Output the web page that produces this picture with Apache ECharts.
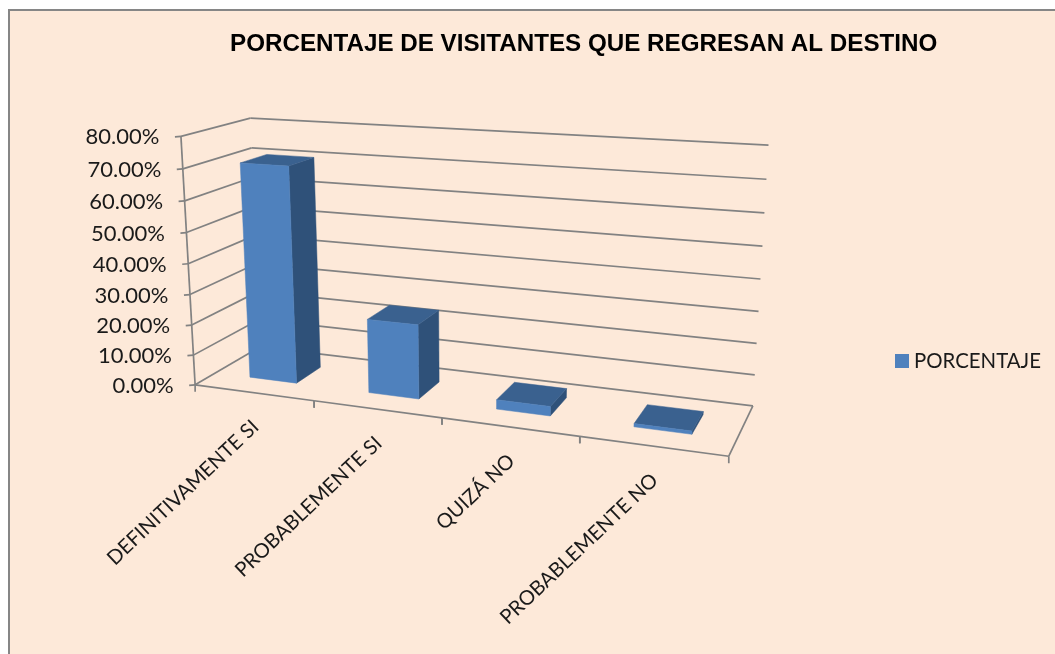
<!DOCTYPE html>
<html><head><meta charset="utf-8">
<style>html,body{margin:0;padding:0;background:#fff}#c{width:1055px;height:654px}</style>
<script src="https://cdn.jsdelivr.net/npm/echarts@6/dist/echarts.min.js"></script>
</head><body><div id="c"></div>
<script>
const categories = ['DEFINITIVAMENTE SI','PROBABLEMENTE SI','QUIZÁ NO','PROBABLEMENTE NO'];
const porcentaje = [70.5, 24.0, 3.0, 1.0];
const yTicks = [0,10,20,30,40,50,60,70,80];
const seriesName = 'PORCENTAJE';
const titleText = 'PORCENTAJE DE VISITANTES QUE REGRESAN AL DESTINO';

// Perspective camera fitted to the reference's plot box: [u (0..4 categories), value (0..80), v depth (0..1)] -> pixel
const calib = [
  [0,80,0,180.7,136],[0,0,0,195,385],[0,80,1,250.7,118],[0,0,1,260,347],
  [4,80,1,768,145],[4,0,1,752.7,406],[4,0,0,728.7,456],[1,0,0,314.3,399],
  [3,0,0,580,437.3],[0,40,0,188.3,265],[4,40,1,761,279]
];
function fitCamera(pts){
  const n=11, A=[], b=[];
  pts.forEach(p=>{
    const X=p[0]/4,Y=p[1]/80,Z=p[2],x=p[3]/1000,y=p[4]/1000;
    A.push([X,Y,Z,1,0,0,0,0,-x*X,-x*Y,-x*Z]); b.push(x);
    A.push([0,0,0,0,X,Y,Z,1,-y*X,-y*Y,-y*Z]); b.push(y);
  });
  const M=[];
  for(let i=0;i<n;i++){M[i]=[];for(let j=0;j<=n;j++){let s=0;for(let k=0;k<A.length;k++)s+=A[k][i]*(j<n?A[k][j]:b[k]);M[i][j]=s;}}
  for(let i=0;i<n;i++){
    let m=i;for(let r=i+1;r<n;r++)if(Math.abs(M[r][i])>Math.abs(M[m][i]))m=r;
    [M[i],M[m]]=[M[m],M[i]];
    for(let r=0;r<n;r++){if(r===i)continue;const f=M[r][i]/M[i][i];for(let c=i;c<=n;c++)M[r][c]-=f*M[i][c];}
  }
  return M.map((r,i)=>r[n]/r[i]);
}
const H=fitCamera(calib);
function proj(u,val,v){
  const X=u/4,Y=val/80,Z=v;
  const w=H[8]*X+H[9]*Y+H[10]*Z+1;
  return [1000*(H[0]*X+H[1]*Y+H[2]*Z+H[3])/w,1000*(H[4]*X+H[5]*Y+H[6]*Z+H[7])/w];
}
// hidden cartesian scale -> world coordinates
const gridBox={left:100,top:100,width:400,height:400};
function world(api,i,val){
  const p=api.coord([i,val]);
  return [(p[0]-gridBox.left)/gridBox.width*4,(gridBox.top+gridBox.height-p[1])/gridBox.height*80];
}
const lineStyle={stroke:'#828282',lineWidth:1.7,fill:null};
function seg(a,b){return {type:'line',shape:{x1:a[0],y1:a[1],x2:b[0],y2:b[1]},style:lineStyle,silent:true};}
function poly(points,fill){return {type:'polygon',shape:{points},style:{fill,stroke:fill,lineWidth:0.5},silent:true};}
const labelFont='Lato';

function renderWall(params,api){
  const val=api.value(0);
  const w=world(api,0,val)[1];
  const f=proj(0,w,0),bl=proj(0,w,1),br=proj(4,w,1);
  return {type:'group',children:[
    seg(f,bl),seg(bl,br),seg([f[0]-6,f[1]+0.5],f),
    {type:'text',style:{x:f[0]-21.5,y:f[1]+1,text:val.toFixed(2)+'%',align:'right',verticalAlign:'middle',font:'22px '+labelFont,fill:'#1a1a1a'},silent:true}
  ]};
}
function renderFloor(params,api){
  const i=api.value(0);
  const u0=i,u1=i+1;
  const a=proj(u0,0,0),b=proj(u1,0,0),mid=proj(i+0.5,0,0);
  const kids=[seg(a,b),seg(a,[a[0],a[1]+7]),seg(b,[b[0],b[1]+7])];
  if(i===0)kids.push(seg(proj(0,0,0),proj(0,80,0)));
  if(i===categories.length-1)kids.push(seg(proj(4,0,0),proj(4,0,1)));
  kids.push({type:'text',x:mid[0]+2,y:mid[1]+31,rotation:Math.PI*43.5/180,style:{x:0,y:0,text:categories[i],align:'right',verticalAlign:'middle',font:'20.2px '+labelFont,fill:'#1a1a1a'},silent:true});
  return {type:'group',children:kids};
}
const barW=0.4,d0=0.3,d1=0.7;
function renderBar(params,api){
  const i=api.value(0),val=api.value(1);
  const w=world(api,i,val),c=w[0],h=w[1];
  const l=c-barW/2,r=c+barW/2;
  const P=(u,y,v)=>proj(u,y,v);
  return {type:'group',children:[
    poly([P(r,0,d0),P(r,0,d1),P(r,h,d1),P(r,h,d0)],'#2F5179'),
    poly([P(l,h,d0),P(r,h,d0),P(r,h,d1),P(l,h,d1)],'#3A618F'),
    poly([P(l,0,d0),P(r,0,d0),P(r,h,d0),P(l,h,d0)],'#4F81BD')
  ]};
}
const chart=echarts.init(document.getElementById('c'));
chart.setOption({
  backgroundColor:'#ffffff',
  animation:false,
  title:{text:titleText,left:225,top:27,textStyle:{fontFamily:'Liberation Sans',fontWeight:'bold',fontSize:24.2,color:'#000'}},
  legend:{data:[seriesName],left:890,top:346,icon:'rect',itemWidth:14,itemHeight:14,itemGap:7,textStyle:{fontFamily:labelFont,fontSize:20.4,color:'#1a1a1a'},selectedMode:false},
  graphic:[{type:'rect',z:-10,shape:{x:9,y:10,width:1100,height:700},style:{fill:'#FDE9D9',stroke:'#868686',lineWidth:2},silent:true}],
  grid:{left:gridBox.left,top:gridBox.top,width:gridBox.width,height:gridBox.height,show:false},
  xAxis:{type:'category',data:categories,show:false},
  yAxis:{type:'value',min:0,max:80,interval:10,show:false},
  series:[
    {type:'custom',name:'walls',coordinateSystem:'cartesian2d',data:yTicks.map(t=>[t]),encode:{y:0},renderItem:renderWall,z:1,silent:true},
    {type:'custom',name:'floor',coordinateSystem:'cartesian2d',data:categories.map((c,i)=>[i]),encode:{x:0},renderItem:renderFloor,z:2,silent:true},
    {type:'custom',name:seriesName,coordinateSystem:'cartesian2d',data:porcentaje.map((v,i)=>[i,v]),encode:{x:0,y:1},renderItem:renderBar,itemStyle:{color:'#4F81BD'},z:3}
  ]
});
</script></body></html>
